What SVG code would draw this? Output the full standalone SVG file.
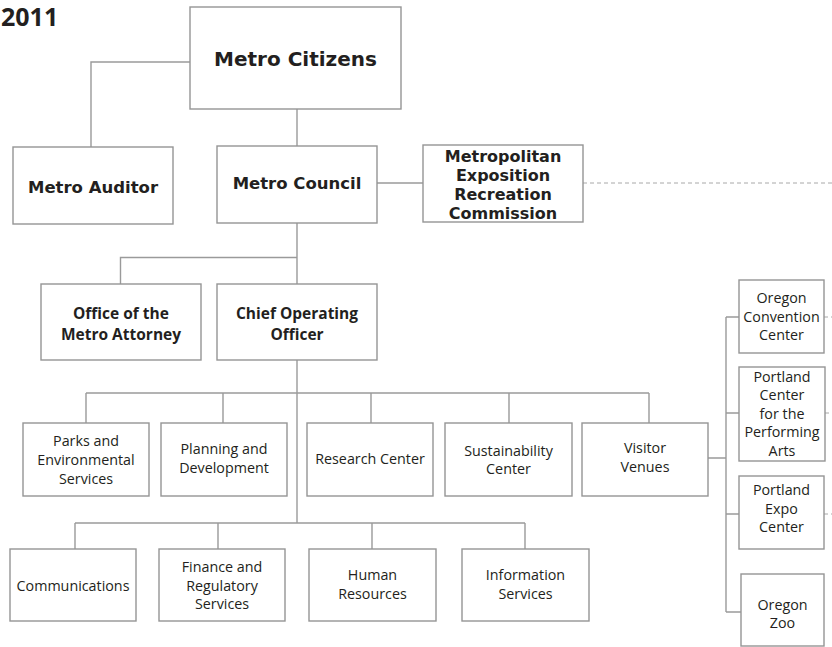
<svg xmlns="http://www.w3.org/2000/svg" width="832" height="647" viewBox="0 0 832 647">
<style>
.box{fill:#fff;stroke:#959595;stroke-width:1.4}
.ln{fill:none;stroke:#9a9a9a;stroke-width:1.4}
.dash{fill:none;stroke:#a8a8a8;stroke-width:1;stroke-dasharray:4 3}
.hb{font-family:"DejaVu Sans",sans-serif;font-weight:bold;fill:#231f20;text-anchor:middle}
.b{font-family:"Open Sans","Liberation Sans",sans-serif;font-weight:bold;font-size:15.5px;fill:#231f20;text-anchor:middle}
.r{font-family:"Open Sans","Liberation Sans",sans-serif;font-size:14.3px;fill:#231f20;text-anchor:middle}
</style>
<rect width="832" height="647" fill="#fff"/>
<text x="1" y="26" font-family="Open Sans, Liberation Sans, sans-serif" font-weight="bold" font-size="25" fill="#231f20">2011</text>
<g id="connectors">
<path class="ln" d="M190,62 H91 V147"/>
<path class="ln" d="M297,109 V146"/>
<path class="ln" d="M377,183 H423"/>
<path class="dash" d="M583,183 H832"/>
<path class="ln" d="M297,223 V284 M297,257.5 H120.5 V284"/>
<path class="ln" d="M297,360 V523"/>
<path class="ln" d="M86,393 H649 M86,393 V423 M223,393 V423 M371,393 V423 M509,393 V423 M649,393 V423"/>
<path class="ln" d="M75,523 H525 M75,523 V549 M218,523 V549 M372,523 V549 M525,523 V549"/>
<path class="ln" d="M708,458 H726 M726,317 V612 M726,317 H739 M726,413 H739 M726,514 H739 M726,612 H741"/>
<path class="dash" d="M824,317 H832 M825,413 H832 M824,514 H832"/>
</g>
<g id="metro-citizens"><rect class="box" x="190" y="7" width="211" height="102"/><text class="hb" x="295.5" y="66" font-size="20">Metro Citizens</text></g>
<g id="metro-auditor"><rect class="box" x="13" y="147" width="160" height="77"/><text class="hb" x="93" y="193" font-size="16.5">Metro Auditor</text></g>
<g id="metro-council"><rect class="box" x="217" y="146" width="160" height="77"/><text class="hb" x="297" y="188.5" font-size="16.5">Metro Council</text></g>
<g id="merc"><rect class="box" x="423" y="145" width="160" height="77"/><text class="hb" x="503" font-size="16"><tspan x="503" y="161.5">Metropolitan</tspan><tspan x="503" y="180.5">Exposition</tspan><tspan x="503" y="199.5">Recreation</tspan><tspan x="503" y="218.5">Commission</tspan></text></g>
<g id="metro-attorney"><rect class="box" x="41" y="284" width="160" height="76"/><text class="b"><tspan x="121" y="318.5">Office of the</tspan><tspan x="121" y="339.5">Metro Attorney</tspan></text></g>
<g id="coo"><rect class="box" x="217" y="284" width="160" height="76"/><text class="b"><tspan x="297" y="319">Chief Operating</tspan><tspan x="297" y="340">Officer</tspan></text></g>
<g id="parks"><rect class="box" x="23" y="423" width="126" height="73"/><text class="r"><tspan x="86" y="446">Parks and</tspan><tspan x="86" y="465">Environmental</tspan><tspan x="86" y="483.5">Services</tspan></text></g>
<g id="planning"><rect class="box" x="161" y="423" width="126" height="73"/><text class="r"><tspan x="224" y="454">Planning and</tspan><tspan x="224" y="472.5">Development</tspan></text></g>
<g id="research"><rect class="box" x="307" y="423" width="126" height="73"/><text class="r" x="370" y="464">Research Center</text></g>
<g id="sustainability"><rect class="box" x="445" y="423" width="127" height="73"/><text class="r"><tspan x="508.5" y="455.5">Sustainability</tspan><tspan x="508.5" y="474">Center</tspan></text></g>
<g id="visitor-venues"><rect class="box" x="582" y="423" width="126" height="73"/><text class="r"><tspan x="645" y="453">Visitor</tspan><tspan x="645" y="471.5">Venues</tspan></text></g>
<g id="occ"><rect class="box" x="739" y="280" width="85" height="73"/><text class="r"><tspan x="781.5" y="303">Oregon</tspan><tspan x="781.5" y="321.5">Convention</tspan><tspan x="781.5" y="339.5">Center</tspan></text></g>
<g id="pcpa"><rect class="box" x="739" y="367" width="86" height="94"/><text class="r"><tspan x="782" y="381.5">Portland</tspan><tspan x="782" y="400">Center</tspan><tspan x="782" y="418.5">for the</tspan><tspan x="782" y="437">Performing</tspan><tspan x="782" y="455.5">Arts</tspan></text></g>
<g id="expo"><rect class="box" x="739" y="476" width="85" height="73"/><text class="r"><tspan x="781.5" y="495">Portland</tspan><tspan x="781.5" y="513.5">Expo</tspan><tspan x="781.5" y="532">Center</tspan></text></g>
<g id="zoo"><rect class="box" x="741" y="574" width="83" height="72"/><text class="r"><tspan x="782.5" y="609.5">Oregon</tspan><tspan x="782.5" y="628">Zoo</tspan></text></g>
<g id="communications"><rect class="box" x="10" y="549" width="126" height="72"/><text class="r" x="73" y="591">Communications</text></g>
<g id="finance"><rect class="box" x="159" y="549" width="126" height="72"/><text class="r"><tspan x="222" y="572">Finance and</tspan><tspan x="222" y="591">Regulatory</tspan><tspan x="222" y="609">Services</tspan></text></g>
<g id="hr"><rect class="box" x="309" y="549" width="127" height="72"/><text class="r"><tspan x="372.5" y="580">Human</tspan><tspan x="372.5" y="599">Resources</tspan></text></g>
<g id="info"><rect class="box" x="462" y="549" width="127" height="72"/><text class="r"><tspan x="525.5" y="580">Information</tspan><tspan x="525.5" y="599">Services</tspan></text></g>
</svg>
